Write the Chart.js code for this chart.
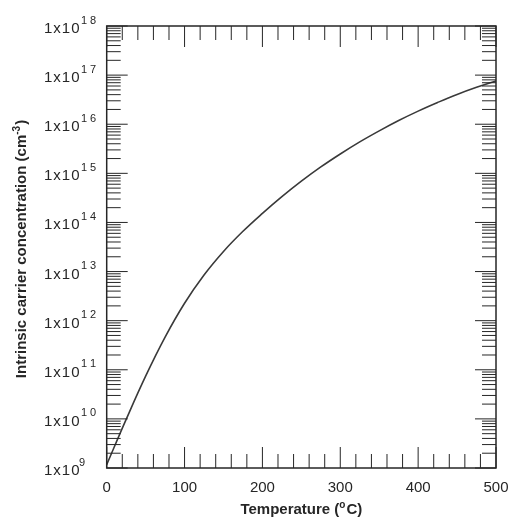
<!DOCTYPE html>
<html>
<head>
<meta charset="utf-8">
<script src="https://cdn.jsdelivr.net/npm/chart.js@4/dist/chart.umd.min.js"></script>
<style>
  html, body { margin: 0; padding: 0; background: #fff; }
  canvas { display: block; }
</style>
</head>
<body>
<canvas id="ni" width="510" height="521"></canvas>
<script>
// Intrinsic carrier concentration of silicon versus temperature
const temperatures = [0, 25, 50, 75, 100, 125, 150, 175, 200, 225, 250,
                      275, 300, 325, 350, 375, 400, 425, 450, 475, 500];
const carrierConc = [1.17e9, 9.77e9, 7.41e10, 4.62e11, 2.26e12, 8.51e12, 2.57e13,
                     6.61e13, 1.53e14, 3.35e14, 6.92e14, 1.35e15, 2.48e15, 4.37e15,
                     7.33e15, 1.19e16, 1.85e16, 2.77e16, 4.04e16, 5.64e16, 7.62e16];
const xTickLabels = [0, 100, 200, 300, 400, 500];
const xMinorStep = 20;
const decadeExponents = [9, 10, 11, 12, 13, 14, 15, 16, 17, 18];
const xTitle = ['Temperature (', 'o', 'C)'];
const yTitle = ['Intrinsic carrier concentration (cm', '-3', ')'];

const FONT = '"Liberation Sans", Arial, Helvetica, sans-serif';
const INK = '#262626';

const framePlugin = {
  id: 'frameAndLabels',
  afterDatasetsDraw(chart) {
    const { ctx, chartArea: a } = chart;
    const xs = chart.scales.x, ys = chart.scales.y;
    const MAJ = 21, MIN = 14;

    ctx.save();
    ctx.strokeStyle = INK;
    ctx.lineWidth = 1;

    const hTick = (y, len) => {
      ctx.beginPath();
      ctx.moveTo(a.left, y); ctx.lineTo(a.left + len, y);
      ctx.moveTo(a.right, y); ctx.lineTo(a.right - len, y);
      ctx.stroke();
    };
    const vTick = (x, len) => {
      ctx.beginPath();
      ctx.moveTo(x, a.bottom); ctx.lineTo(x, a.bottom - len);
      ctx.moveTo(x, a.top); ctx.lineTo(x, a.top + len);
      ctx.stroke();
    };

    // logarithmic ticks on the left and right edges
    decadeExponents.forEach((e, i) => {
      hTick(ys.getPixelForValue(Math.pow(10, e)), MAJ);
      if (i < decadeExponents.length - 1) {
        for (let m = 2; m <= 9; m++) {
          hTick(ys.getPixelForValue(m * Math.pow(10, e)), MIN);
        }
      }
    });

    // linear ticks on the top and bottom edges
    for (let t = xs.min; t <= xs.max; t += xMinorStep) {
      const major = xTickLabels.includes(t);
      vTick(xs.getPixelForValue(t), major ? MAJ : MIN);
    }

    // plot frame
    ctx.lineWidth = 1.5;
    ctx.strokeRect(a.left, a.top, a.right - a.left, a.bottom - a.top);

    // x tick labels
    ctx.fillStyle = INK;
    ctx.font = '15px ' + FONT;
    ctx.textAlign = 'center';
    ctx.textBaseline = 'alphabetic';
    xTickLabels.forEach(v => {
      ctx.fillText(String(v), xs.getPixelForValue(v), 491.5);
    });

    // y tick labels: 1x10 with a spaced superscript exponent
    decadeExponents.forEach(e => {
      const y = ys.getPixelForValue(Math.pow(10, e));
      ctx.textAlign = 'left';
      ctx.font = '15px ' + FONT;
      ctx.letterSpacing = '1px';
      ctx.fillText('1x10', 44, y + 7);
      ctx.letterSpacing = '0px';
      ctx.font = '11px ' + FONT;
      const digits = String(e).split('');
      if (digits.length === 1) {
        ctx.fillText(digits[0], 79, y - 2.5);
      } else {
        ctx.fillText(digits[0], 81, y - 2.5);
        ctx.fillText(digits[1], 90, y - 2.5);
      }
    });

    // x axis title
    const bold = 'bold 15px ' + FONT, supB = 'bold 10px ' + FONT;
    ctx.font = bold; const w0 = ctx.measureText(xTitle[0]).width;
    ctx.font = supB; const w1 = ctx.measureText(xTitle[1]).width + 1;
    ctx.font = bold; const w2 = ctx.measureText(xTitle[2]).width;
    let x = (a.left + a.right) / 2 - (w0 + w1 + w2) / 2;
    const base = 514;
    ctx.textAlign = 'left';
    ctx.font = bold; ctx.fillText(xTitle[0], x, base); x += w0;
    ctx.font = supB; ctx.fillText(xTitle[1], x, base - 6); x += w1;
    ctx.font = bold; ctx.fillText(xTitle[2], x, base);

    // y axis title, rotated
    ctx.save();
    ctx.translate(26, (a.top + a.bottom) / 2 + 2);
    ctx.rotate(-Math.PI / 2);
    ctx.font = bold; const v0 = ctx.measureText(yTitle[0]).width;
    ctx.font = supB; const v1 = ctx.measureText(yTitle[1]).width + 1;
    ctx.font = bold; const v2 = ctx.measureText(yTitle[2]).width;
    let p = -(v0 + v1 + v2) / 2;
    ctx.font = bold; ctx.fillText(yTitle[0], p, 0); p += v0;
    ctx.font = supB; ctx.fillText(yTitle[1], p, -6); p += v1;
    ctx.font = bold; ctx.fillText(yTitle[2], p, 0);
    ctx.restore();

    ctx.restore();
  }
};

new Chart(document.getElementById('ni'), {
  type: 'line',
  data: {
    datasets: [{
      data: temperatures.map((t, i) => ({ x: t, y: carrierConc[i] })),
      borderColor: '#3a3a3a',
      borderWidth: 1.6,
      pointRadius: 0,
      fill: false,
      tension: 0.4
    }]
  },
  options: {
    responsive: false,
    animation: false,
    devicePixelRatio: 1,
    layout: { padding: { left: 106.7, right: 14, top: 26, bottom: 53 } },
    plugins: { legend: { display: false }, tooltip: { enabled: false } },
    scales: {
      x: { type: 'linear', min: 0, max: 500, display: false },
      y: { type: 'logarithmic', min: 1e9, max: 1e18, display: false }
    }
  },
  plugins: [framePlugin]
});
</script>
</body>
</html>
